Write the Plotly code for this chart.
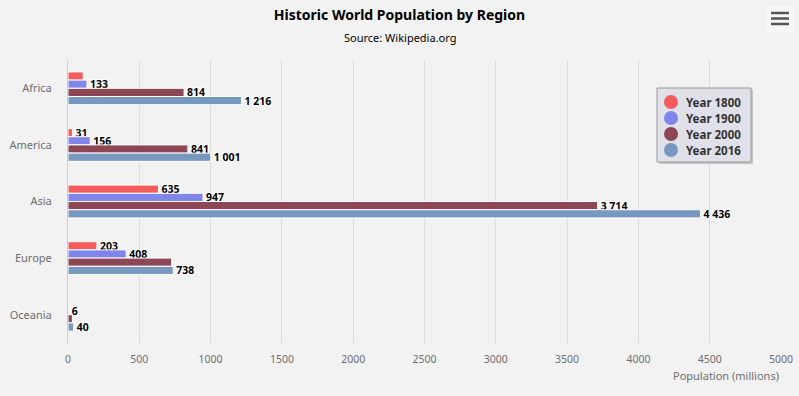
import plotly.graph_objects as go

regions = ["Africa", "America", "Asia", "Europe", "Oceania"]
series_names = ["Year 1800", "Year 1900", "Year 2000", "Year 2016"]
year_1800 = [107, 31, 635, 203, 2]
year_1900 = [133, 156, 947, 408, 6]
year_2000 = [814, 841, 3714, 727, 31]
year_2016 = [1216, 1001, 4436, 738, 40]
x_ticks = [0, 500, 1000, 1500, 2000, 2500, 3000, 3500, 4000, 4500, 5000]
# labels that the original hid because of overlap: (series index, region index)
hidden_labels = {(0, 0), (2, 3), (0, 4), (2, 4)}

colors = ["#f45b5b", "#8085e9", "#8d4654", "#7798BF"]
all_values = [year_1800, year_1900, year_2000, year_2016]

def fmt(v):
    return f"{v:,}".replace(",", " ")

W, H = 799, 396
L, R, T, B = 68, 18, 60, 53

def px_x(p):
    return (p - L) / (W - L - R)

def px_y(p):
    return (H - B - p) / (H - T - B)

fig = go.Figure()
shadow = "1px 1px 0 #fff, -1px -1px 0 #fff, 1px -1px 0 #fff, -1px 1px 0 #fff"
for si, (name, vals, col) in enumerate(zip(series_names, all_values, colors)):
    labels = ["" if (si, ri) in hidden_labels else fmt(v) for ri, v in enumerate(vals)]
    fig.add_trace(go.Bar(
        name=name, y=regions, x=vals, orientation="h",
        marker=dict(color=col, line=dict(color="#ffffff", width=1)),
        text=labels, textposition="outside", constraintext="none",
        textfont=dict(family="Noto Sans", size=10.5, color="#000000", weight="bold", shadow=shadow),
        cliponaxis=False, showlegend=False, hoverinfo="x+name",
    ))

annotations = [
    dict(text="Source: Wikipedia.org", x=px_x(W / 2), y=px_y(38), xref="paper",
         yref="paper", xanchor="center", yanchor="middle", showarrow=False,
         font=dict(size=11, color="#000000")),
    dict(text="Population (millions)", x=1, y=px_y(375), xref="paper",
         yref="paper", xanchor="right", yanchor="middle", showarrow=False,
         font=dict(size=11, color="#6e6e70")),
]

# export menu button (decorative)
shapes = [dict(type="rect", xref="paper", yref="paper", x0=px_x(766), x1=px_x(794),
               y0=px_y(32), y1=px_y(6), fillcolor="#f7f7f7", line=dict(width=0), layer="above")]
for yy in (13, 18.5, 24):
    shapes.append(dict(type="line", xref="paper", yref="paper", x0=px_x(771), x1=px_x(789),
                       y0=px_y(yy), y1=px_y(yy), line=dict(color="#555555", width=2.5)))

# legend box (floating, top right of plot area)
lx0, lx1, ly0, ly1 = 657, 751, 88, 162
shapes.append(dict(type="rect", xref="paper", yref="paper", x0=px_x(lx0 + 2), x1=px_x(lx1 + 2),
                   y0=px_y(ly1 + 2), y1=px_y(ly0 + 2), fillcolor="rgba(0,0,0,0.18)",
                   line=dict(width=0), layer="above"))
shapes.append(dict(type="rect", xref="paper", yref="paper", x0=px_x(lx0), x1=px_x(lx1),
                   y0=px_y(ly1), y1=px_y(ly0), fillcolor="#e0e0e8",
                   line=dict(color="#999999", width=1), layer="above"))
for i, (name, col) in enumerate(zip(series_names, colors)):
    cy = 102 + i * 16
    shapes.append(dict(type="circle", xref="paper", yref="paper",
                       xsizemode="pixel", ysizemode="pixel",
                       xanchor=px_x(671), yanchor=px_y(cy), x0=-7, x1=7, y0=-7, y1=7,
                       fillcolor=col, line=dict(width=0), layer="above"))
    annotations.append(dict(text=f"<b>{name}</b>", x=px_x(684), y=px_y(cy + 0.5),
                            xref="paper", yref="paper", xanchor="left", yanchor="middle",
                            showarrow=False, font=dict(size=11.5, color="#333333")))

fig.update_layout(
    width=W, height=H,
    margin=dict(l=L, r=R, t=T, b=B, autoexpand=False),
    paper_bgcolor="#f2f2f2", plot_bgcolor="#f2f2f2",
    barmode="group", bargap=0.42, bargroupgap=0.0,
    font=dict(family="Noto Sans", color="#333333"),
    showlegend=False,
    title=dict(text="<b>Historic World Population by Region</b>", x=0.5, xanchor="center",
               y=1 - 15 / H, yanchor="middle", font=dict(size=14, color="#000000")),
    xaxis=dict(range=[0, 5000], tickvals=x_ticks, ticktext=[str(v) for v in x_ticks],
               showgrid=True, gridcolor="#dcdcdc", gridwidth=1, zeroline=False,
               ticks="outside", ticklen=6, tickcolor="rgba(0,0,0,0)", automargin=False,
               tickfont=dict(size=10.5, color="#6e6e70"), showline=False, fixedrange=True),
    yaxis=dict(autorange="reversed", showgrid=False, showline=True, linecolor="#c0d0e0",
               linewidth=1, ticks="outside", ticklen=13, tickcolor="rgba(0,0,0,0)",
               automargin=False,
               tickfont=dict(size=11, color="#6e6e70"), fixedrange=True),
    annotations=annotations,
    shapes=shapes,
)

fig.write_html("out.html", config={"displayModeBar": False},
               post_script="document.body.style.margin='0';")
